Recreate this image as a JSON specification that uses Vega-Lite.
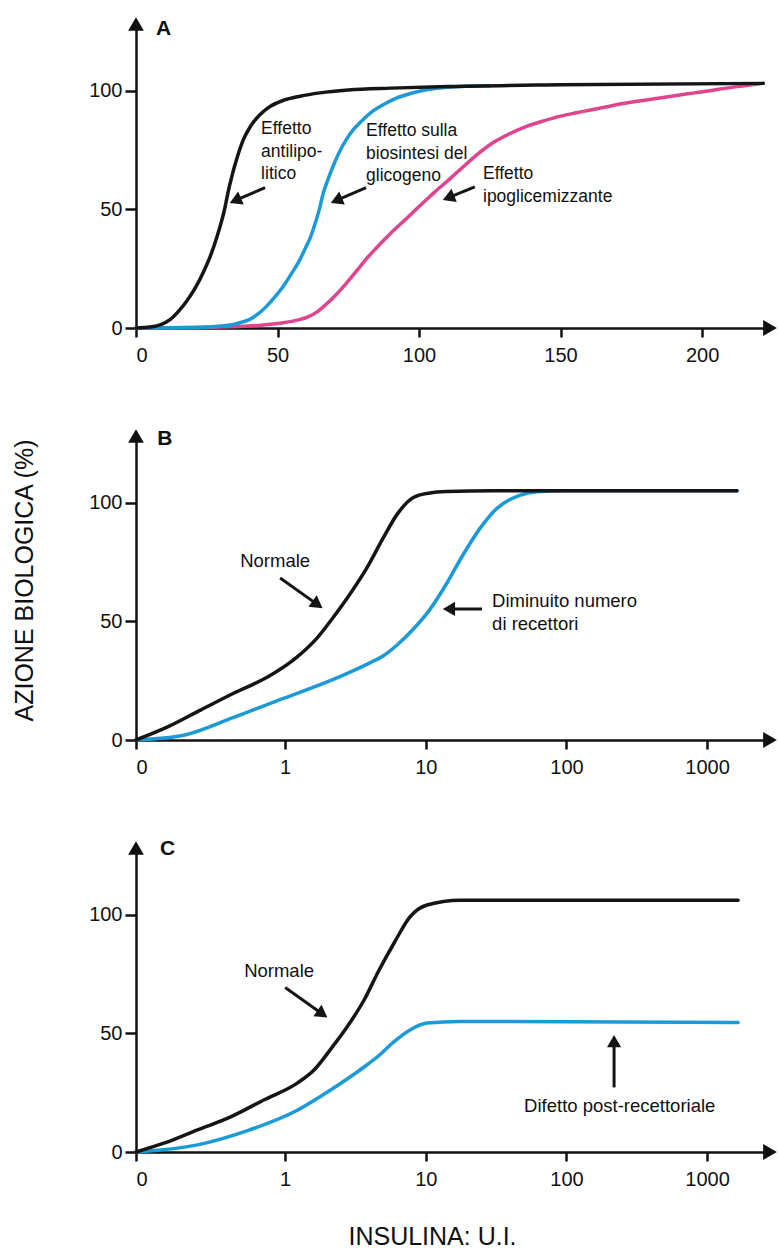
{
  "$schema": "https://vega.github.io/schema/vega-lite/v6.json",
  "background": "white",
  "padding": {"left": 11, "top": 17, "right": 0, "bottom": 0},
  "spacing": 108,
  "bounds": "flush",
  "config": {
    "font": "Liberation Sans",
    "view": {"stroke": null},
    "axis": {
      "domainColor": "#111111", "domainWidth": 2.5, "tickColor": "#111111", "tickWidth": 2.5,
      "labelColor": "#111111", "labelFont": "Liberation Sans", "labelFontSize": 20, "grid": false,
      "titleFont": "Liberation Sans", "titleFontWeight": "normal", "titleColor": "#111111", "titleFontSize": 25
    },
    "axisX": {"tickSize": 9, "labelPadding": 8, "labelAngle": 0},
    "axisY": {"tickSize": 11, "labelPadding": 3},
    "text": {"font": "Liberation Sans", "color": "#111111"}
  },
  "datasets": {
    "A_curves": [
      {"effect": "antilipolitico", "insulin": 0, "action": 0}, {"effect": "antilipolitico", "insulin": 5, "action": 0.4}, {"effect": "antilipolitico", "insulin": 9, "action": 1.5}, {"effect": "antilipolitico", "insulin": 12, "action": 3.5}, {"effect": "antilipolitico", "insulin": 15, "action": 7}, {"effect": "antilipolitico", "insulin": 18, "action": 11.5}, {"effect": "antilipolitico", "insulin": 21, "action": 17}, {"effect": "antilipolitico", "insulin": 24, "action": 24}, {"effect": "antilipolitico", "insulin": 26.5, "action": 31}, {"effect": "antilipolitico", "insulin": 28.5, "action": 38}, {"effect": "antilipolitico", "insulin": 30, "action": 44}, {"effect": "antilipolitico", "insulin": 31.3, "action": 50}, {"effect": "antilipolitico", "insulin": 32.5, "action": 57}, {"effect": "antilipolitico", "insulin": 34, "action": 64.5}, {"effect": "antilipolitico", "insulin": 35.8, "action": 72}, {"effect": "antilipolitico", "insulin": 38, "action": 79.5}, {"effect": "antilipolitico", "insulin": 40.5, "action": 85}, {"effect": "antilipolitico", "insulin": 43.5, "action": 89.5}, {"effect": "antilipolitico", "insulin": 47, "action": 93}, {"effect": "antilipolitico", "insulin": 52, "action": 95.8}, {"effect": "antilipolitico", "insulin": 58, "action": 97.6}, {"effect": "antilipolitico", "insulin": 65, "action": 99}, {"effect": "antilipolitico", "insulin": 75, "action": 100.2}, {"effect": "antilipolitico", "insulin": 90, "action": 101}, {"effect": "antilipolitico", "insulin": 110, "action": 101.7}, {"effect": "antilipolitico", "insulin": 150, "action": 102.4}, {"effect": "antilipolitico", "insulin": 221.6, "action": 103},
      {"effect": "glicogeno", "insulin": 0, "action": 0}, {"effect": "glicogeno", "insulin": 20, "action": 0.2}, {"effect": "glicogeno", "insulin": 30, "action": 0.8}, {"effect": "glicogeno", "insulin": 34, "action": 1.4}, {"effect": "glicogeno", "insulin": 37, "action": 2.3}, {"effect": "glicogeno", "insulin": 40, "action": 3.5}, {"effect": "glicogeno", "insulin": 43, "action": 5.8}, {"effect": "glicogeno", "insulin": 46, "action": 9}, {"effect": "glicogeno", "insulin": 49, "action": 13}, {"effect": "glicogeno", "insulin": 52, "action": 17.5}, {"effect": "glicogeno", "insulin": 55, "action": 23}, {"effect": "glicogeno", "insulin": 58, "action": 29}, {"effect": "glicogeno", "insulin": 60, "action": 34}, {"effect": "glicogeno", "insulin": 61.4, "action": 37.5}, {"effect": "glicogeno", "insulin": 62.6, "action": 41.5}, {"effect": "glicogeno", "insulin": 63.7, "action": 45.6}, {"effect": "glicogeno", "insulin": 65, "action": 51}, {"effect": "glicogeno", "insulin": 66.1, "action": 56.5}, {"effect": "glicogeno", "insulin": 67.8, "action": 62.5}, {"effect": "glicogeno", "insulin": 69.6, "action": 68}, {"effect": "glicogeno", "insulin": 71.8, "action": 74}, {"effect": "glicogeno", "insulin": 74.3, "action": 79.3}, {"effect": "glicogeno", "insulin": 77, "action": 83.8}, {"effect": "glicogeno", "insulin": 80.2, "action": 87.7}, {"effect": "glicogeno", "insulin": 83.5, "action": 91.2}, {"effect": "glicogeno", "insulin": 87.3, "action": 94}, {"effect": "glicogeno", "insulin": 91, "action": 96.3}, {"effect": "glicogeno", "insulin": 95.5, "action": 98.2}, {"effect": "glicogeno", "insulin": 102.6, "action": 100.3}, {"effect": "glicogeno", "insulin": 110, "action": 101.4}, {"effect": "glicogeno", "insulin": 125, "action": 102},
      {"effect": "ipoglicemizzante", "insulin": 0, "action": 0}, {"effect": "ipoglicemizzante", "insulin": 30, "action": 0.4}, {"effect": "ipoglicemizzante", "insulin": 45, "action": 1.3}, {"effect": "ipoglicemizzante", "insulin": 52, "action": 2.2}, {"effect": "ipoglicemizzante", "insulin": 57, "action": 3.3}, {"effect": "ipoglicemizzante", "insulin": 61, "action": 4.8}, {"effect": "ipoglicemizzante", "insulin": 64, "action": 6.8}, {"effect": "ipoglicemizzante", "insulin": 67.2, "action": 10}, {"effect": "ipoglicemizzante", "insulin": 70.5, "action": 13.8}, {"effect": "ipoglicemizzante", "insulin": 74.3, "action": 18.8}, {"effect": "ipoglicemizzante", "insulin": 77.8, "action": 23.8}, {"effect": "ipoglicemizzante", "insulin": 81.3, "action": 29}, {"effect": "ipoglicemizzante", "insulin": 85, "action": 33.8}, {"effect": "ipoglicemizzante", "insulin": 88.4, "action": 38}, {"effect": "ipoglicemizzante", "insulin": 92, "action": 42.2}, {"effect": "ipoglicemizzante", "insulin": 95.5, "action": 46}, {"effect": "ipoglicemizzante", "insulin": 99, "action": 50}, {"effect": "ipoglicemizzante", "insulin": 102.6, "action": 54}, {"effect": "ipoglicemizzante", "insulin": 105.5, "action": 57.2}, {"effect": "ipoglicemizzante", "insulin": 108.5, "action": 60.3}, {"effect": "ipoglicemizzante", "insulin": 112, "action": 64}, {"effect": "ipoglicemizzante", "insulin": 115, "action": 67.2}, {"effect": "ipoglicemizzante", "insulin": 120.3, "action": 72.8}, {"effect": "ipoglicemizzante", "insulin": 126.1, "action": 78}, {"effect": "ipoglicemizzante", "insulin": 132, "action": 81.8}, {"effect": "ipoglicemizzante", "insulin": 138, "action": 84.9}, {"effect": "ipoglicemizzante", "insulin": 144, "action": 87.2}, {"effect": "ipoglicemizzante", "insulin": 149.7, "action": 89.1}, {"effect": "ipoglicemizzante", "insulin": 155.6, "action": 90.6}, {"effect": "ipoglicemizzante", "insulin": 161.5, "action": 92}, {"effect": "ipoglicemizzante", "insulin": 167.3, "action": 93.4}, {"effect": "ipoglicemizzante", "insulin": 173.2, "action": 94.7}, {"effect": "ipoglicemizzante", "insulin": 179, "action": 95.8}, {"effect": "ipoglicemizzante", "insulin": 185, "action": 96.8}, {"effect": "ipoglicemizzante", "insulin": 190.9, "action": 97.9}, {"effect": "ipoglicemizzante", "insulin": 196.8, "action": 98.9}, {"effect": "ipoglicemizzante", "insulin": 202.7, "action": 99.9}, {"effect": "ipoglicemizzante", "insulin": 208.6, "action": 101}, {"effect": "ipoglicemizzante", "insulin": 215, "action": 102}, {"effect": "ipoglicemizzante", "insulin": 221.6, "action": 103}
    ],
    "B_curves": [
      {"curve": "Normale", "insulin": 0.087, "action": 0}, {"curve": "Normale", "insulin": 0.146, "action": 5.5}, {"curve": "Normale", "insulin": 0.25, "action": 12.6}, {"curve": "Normale", "insulin": 0.43, "action": 19.7}, {"curve": "Normale", "insulin": 0.75, "action": 26.5}, {"curve": "Normale", "insulin": 1.14, "action": 33.6}, {"curve": "Normale", "insulin": 1.69, "action": 43}, {"curve": "Normale", "insulin": 2.2, "action": 51.7}, {"curve": "Normale", "insulin": 2.9, "action": 61.6}, {"curve": "Normale", "insulin": 3.83, "action": 72.7}, {"curve": "Normale", "insulin": 4.97, "action": 85}, {"curve": "Normale", "insulin": 6.25, "action": 95}, {"curve": "Normale", "insulin": 8.1, "action": 102}, {"curve": "Normale", "insulin": 10.7, "action": 104}, {"curve": "Normale", "insulin": 14.1, "action": 104.6}, {"curve": "Normale", "insulin": 30, "action": 105}, {"curve": "Normale", "insulin": 1630, "action": 105},
      {"curve": "Diminuito numero di recettori", "insulin": 0.087, "action": 0}, {"curve": "Diminuito numero di recettori", "insulin": 0.19, "action": 2}, {"curve": "Diminuito numero di recettori", "insulin": 0.43, "action": 9.5}, {"curve": "Diminuito numero di recettori", "insulin": 0.97, "action": 17.5}, {"curve": "Diminuito numero di recettori", "insulin": 2.2, "action": 25.5}, {"curve": "Diminuito numero di recettori", "insulin": 3.0, "action": 29}, {"curve": "Diminuito numero di recettori", "insulin": 4.0, "action": 32.5}, {"curve": "Diminuito numero di recettori", "insulin": 5.0, "action": 35.5}, {"curve": "Diminuito numero di recettori", "insulin": 6.25, "action": 40}, {"curve": "Diminuito numero di recettori", "insulin": 8.1, "action": 46.5}, {"curve": "Diminuito numero di recettori", "insulin": 10.7, "action": 55}, {"curve": "Diminuito numero di recettori", "insulin": 14.1, "action": 66}, {"curve": "Diminuito numero di recettori", "insulin": 18.4, "action": 78}, {"curve": "Diminuito numero di recettori", "insulin": 24.2, "action": 89}, {"curve": "Diminuito numero di recettori", "insulin": 32, "action": 97.5}, {"curve": "Diminuito numero di recettori", "insulin": 46.5, "action": 103}, {"curve": "Diminuito numero di recettori", "insulin": 61.5, "action": 104.5}, {"curve": "Diminuito numero di recettori", "insulin": 100, "action": 105}, {"curve": "Diminuito numero di recettori", "insulin": 1630, "action": 105}
    ],
    "C_curves": [
      {"curve": "Normale", "insulin": 0.087, "action": 0}, {"curve": "Normale", "insulin": 0.139, "action": 3.8}, {"curve": "Normale", "insulin": 0.238, "action": 9.3}, {"curve": "Normale", "insulin": 0.41, "action": 14.8}, {"curve": "Normale", "insulin": 0.71, "action": 22}, {"curve": "Normale", "insulin": 1.22, "action": 29}, {"curve": "Normale", "insulin": 1.61, "action": 34.6}, {"curve": "Normale", "insulin": 2.09, "action": 43}, {"curve": "Normale", "insulin": 2.76, "action": 52.7}, {"curve": "Normale", "insulin": 3.64, "action": 64}, {"curve": "Normale", "insulin": 4.6, "action": 76}, {"curve": "Normale", "insulin": 5.95, "action": 88}, {"curve": "Normale", "insulin": 7.72, "action": 99}, {"curve": "Normale", "insulin": 10.2, "action": 104}, {"curve": "Normale", "insulin": 17.5, "action": 106}, {"curve": "Normale", "insulin": 1660, "action": 106},
      {"curve": "Difetto post-recettoriale", "insulin": 0.087, "action": 0}, {"curve": "Difetto post-recettoriale", "insulin": 0.238, "action": 3}, {"curve": "Difetto post-recettoriale", "insulin": 0.54, "action": 9}, {"curve": "Difetto post-recettoriale", "insulin": 1.22, "action": 17.6}, {"curve": "Difetto post-recettoriale", "insulin": 2.09, "action": 26}, {"curve": "Difetto post-recettoriale", "insulin": 3.64, "action": 35.8}, {"curve": "Difetto post-recettoriale", "insulin": 4.51, "action": 40}, {"curve": "Difetto post-recettoriale", "insulin": 5.95, "action": 46.5}, {"curve": "Difetto post-recettoriale", "insulin": 7.72, "action": 51.4}, {"curve": "Difetto post-recettoriale", "insulin": 10.2, "action": 54.3}, {"curve": "Difetto post-recettoriale", "insulin": 17.5, "action": 55}, {"curve": "Difetto post-recettoriale", "insulin": 1660, "action": 54.5}
    ],
    "notes": [
      {"panel": "A", "kind": "letter", "insulin": 7.1, "action": 130.5, "label": "A"},
      {"panel": "A", "kind": "note", "insulin": 44.2, "action": 87.5, "label": "Effetto\nantilipo-\nlitico"},
      {"panel": "A", "kind": "note", "insulin": 81.3, "action": 86.7, "label": "Effetto sulla\nbiosintesi del\nglicogeno"},
      {"panel": "A", "kind": "note", "insulin": 122.6, "action": 68.5, "label": "Effetto\nipoglicemizzante"},
      {"panel": "B", "kind": "letter", "insulin": 0.123, "action": 131.4, "label": "B"},
      {"panel": "B", "kind": "note", "insulin": 0.479, "action": 79.2, "label": "Normale"},
      {"panel": "B", "kind": "note", "insulin": 29.6, "action": 62.3, "label": "Diminuito numero\ndi recettori"},
      {"panel": "C", "kind": "letter", "insulin": 0.129, "action": 132.2, "label": "C"},
      {"panel": "C", "kind": "note", "insulin": 0.511, "action": 80, "label": "Normale"},
      {"panel": "C", "kind": "note", "insulin": 50, "action": 23.2, "label": "Difetto post-recettoriale"}
    ],
    "arrows": [
      {"panel": "A", "insulin": 45.6, "action": 59.1, "insulin2": 35.1, "action2": 53.7, "angle": 246.8},
      {"panel": "A", "insulin": 81.3, "action": 59.1, "insulin2": 70.8, "action2": 53.7, "angle": 246.8},
      {"panel": "A", "insulin": 119.7, "action": 59.4, "insulin2": 110.4, "action2": 54.9, "angle": 248.2},
      {"panel": "B", "insulin": 0.921, "action": 68.2, "insulin2": 1.7, "action2": 57, "angle": 125.5},
      {"panel": "B", "insulin": 25.1, "action": 55.2, "insulin2": 14.6, "action2": 55.2, "angle": 270},
      {"panel": "C", "insulin": 1.0, "action": 69.3, "insulin2": 1.84, "action2": 58.1, "angle": 125.5},
      {"panel": "C", "insulin": 218, "action": 27.2, "insulin2": 218, "action2": 46.7, "angle": 0}
    ]
  },
  "vconcat": [
    {
      "width": 634, "height": 304,
      "layer": [
        {
          "data": {"name": "A_curves"},
          "transform": [{"filter": "datum.effect === 'ipoglicemizzante'"}],
          "mark": {"type": "line", "interpolate": "monotone", "strokeWidth": 3.5, "strokeCap": "round", "color": "#e0448f"},
          "encoding": {
            "x": {"field": "insulin", "type": "quantitative", "scale": {"domain": [0, 224], "nice": false}, "axis": {"values": [0, 50, 100, 150, 200], "title": null}},
            "y": {"field": "action", "type": "quantitative", "scale": {"domain": [0, 128], "nice": false}, "axis": {"values": [0, 50, 100], "title": null}}
          }
        },
        {
          "data": {"name": "A_curves"},
          "transform": [{"filter": "datum.effect === 'glicogeno'"}],
          "mark": {"type": "line", "interpolate": "monotone", "strokeWidth": 3.5, "strokeCap": "round", "color": "#1a9ad8"},
          "encoding": {"x": {"field": "insulin", "type": "quantitative"}, "y": {"field": "action", "type": "quantitative"}}
        },
        {
          "data": {"name": "A_curves"},
          "transform": [{"filter": "datum.effect === 'antilipolitico'"}],
          "mark": {"type": "line", "interpolate": "monotone", "strokeWidth": 3.5, "strokeCap": "round", "color": "#151515"},
          "encoding": {"x": {"field": "insulin", "type": "quantitative"}, "y": {"field": "action", "type": "quantitative"}}
        },
        {
          "data": {"name": "arrows"},
          "transform": [{"filter": "datum.panel === 'A'"}],
          "mark": {"type": "rule", "strokeWidth": 3, "color": "#151515"},
          "encoding": {"x": {"field": "insulin", "type": "quantitative"}, "y": {"field": "action", "type": "quantitative"}, "x2": {"field": "insulin2"}, "y2": {"field": "action2"}}
        },
        {
          "data": {"name": "arrows"},
          "transform": [{"filter": "datum.panel === 'A'"}],
          "mark": {"type": "point", "shape": "triangle-up", "filled": true, "size": 200, "opacity": 1, "color": "#151515"},
          "encoding": {"x": {"field": "insulin2", "type": "quantitative"}, "y": {"field": "action2", "type": "quantitative"}, "angle": {"field": "angle", "type": "quantitative", "scale": null}}
        },
        {
          "data": {"name": "notes"},
          "transform": [{"filter": "datum.panel === 'A' && datum.kind === 'note'"}],
          "mark": {"type": "text", "align": "left", "baseline": "top", "fontSize": 17.5, "lineBreak": "\n", "lineHeight": 22.5},
          "encoding": {"x": {"field": "insulin", "type": "quantitative"}, "y": {"field": "action", "type": "quantitative"}, "text": {"field": "label"}}
        },
        {
          "data": {"name": "notes"},
          "transform": [{"filter": "datum.panel === 'A' && datum.kind === 'letter'"}],
          "mark": {"type": "text", "align": "left", "baseline": "top", "fontSize": 21, "fontWeight": "bold"},
          "encoding": {"x": {"field": "insulin", "type": "quantitative"}, "y": {"field": "action", "type": "quantitative"}, "text": {"field": "label"}}
        },
        {
          "data": {"values": [{}]},
          "mark": {"type": "point", "shape": "triangle-up", "filled": true, "size": 250, "opacity": 1, "color": "#111111"},
          "encoding": {"x": {"datum": 0, "type": "quantitative"}, "y": {"datum": 128, "type": "quantitative"}}
        },
        {
          "data": {"values": [{}]},
          "mark": {"type": "point", "shape": "triangle-right", "filled": true, "size": 250, "opacity": 1, "color": "#111111"},
          "encoding": {"x": {"datum": 224, "type": "quantitative"}, "y": {"datum": 0, "type": "quantitative"}}
        }
      ]
    },
    {
      "width": 634, "height": 304,
      "layer": [
        {
          "data": {"name": "B_curves"},
          "transform": [{"filter": "datum.curve === 'Diminuito numero di recettori'"}],
          "mark": {"type": "line", "interpolate": "monotone", "strokeWidth": 3.5, "strokeCap": "round", "color": "#1a9ad8"},
          "encoding": {
            "x": {"field": "insulin", "type": "quantitative", "scale": {"type": "log", "domain": [0.087, 2800], "nice": false}, "axis": {"values": [0.087, 1, 10, 100, 1000], "labelExpr": "datum.value < 0.5 ? '0' : format(datum.value, 'd')", "title": null}},
            "y": {"field": "action", "type": "quantitative", "scale": {"domain": [0, 128], "nice": false}, "axis": {"values": [0, 50, 100], "title": "AZIONE BIOLOGICA (%)", "titleX": -112, "titleY": 144, "titleAngle": -90, "titleAlign": "center", "titleBaseline": "middle"}}
          }
        },
        {
          "data": {"name": "B_curves"},
          "transform": [{"filter": "datum.curve === 'Normale'"}],
          "mark": {"type": "line", "interpolate": "monotone", "strokeWidth": 3.5, "strokeCap": "round", "color": "#151515"},
          "encoding": {"x": {"field": "insulin", "type": "quantitative"}, "y": {"field": "action", "type": "quantitative"}}
        },
        {
          "data": {"name": "arrows"},
          "transform": [{"filter": "datum.panel === 'B'"}],
          "mark": {"type": "rule", "strokeWidth": 3, "color": "#151515"},
          "encoding": {"x": {"field": "insulin", "type": "quantitative"}, "y": {"field": "action", "type": "quantitative"}, "x2": {"field": "insulin2"}, "y2": {"field": "action2"}}
        },
        {
          "data": {"name": "arrows"},
          "transform": [{"filter": "datum.panel === 'B'"}],
          "mark": {"type": "point", "shape": "triangle-up", "filled": true, "size": 200, "opacity": 1, "color": "#151515"},
          "encoding": {"x": {"field": "insulin2", "type": "quantitative"}, "y": {"field": "action2", "type": "quantitative"}, "angle": {"field": "angle", "type": "quantitative", "scale": null}}
        },
        {
          "data": {"name": "notes"},
          "transform": [{"filter": "datum.panel === 'B' && datum.kind === 'note'"}],
          "mark": {"type": "text", "align": "left", "baseline": "top", "fontSize": 18.5, "lineBreak": "\n", "lineHeight": 23},
          "encoding": {"x": {"field": "insulin", "type": "quantitative"}, "y": {"field": "action", "type": "quantitative"}, "text": {"field": "label"}}
        },
        {
          "data": {"name": "notes"},
          "transform": [{"filter": "datum.panel === 'B' && datum.kind === 'letter'"}],
          "mark": {"type": "text", "align": "left", "baseline": "top", "fontSize": 21, "fontWeight": "bold"},
          "encoding": {"x": {"field": "insulin", "type": "quantitative"}, "y": {"field": "action", "type": "quantitative"}, "text": {"field": "label"}}
        },
        {
          "data": {"values": [{}]},
          "mark": {"type": "point", "shape": "triangle-up", "filled": true, "size": 250, "opacity": 1, "color": "#111111"},
          "encoding": {"x": {"datum": 0.087, "type": "quantitative"}, "y": {"datum": 128, "type": "quantitative"}}
        },
        {
          "data": {"values": [{}]},
          "mark": {"type": "point", "shape": "triangle-right", "filled": true, "size": 250, "opacity": 1, "color": "#111111"},
          "encoding": {"x": {"datum": 2800, "type": "quantitative"}, "y": {"datum": 0, "type": "quantitative"}}
        }
      ]
    },
    {
      "width": 634, "height": 304,
      "layer": [
        {
          "data": {"name": "C_curves"},
          "transform": [{"filter": "datum.curve === 'Difetto post-recettoriale'"}],
          "mark": {"type": "line", "interpolate": "monotone", "strokeWidth": 3.5, "strokeCap": "round", "color": "#1a9ad8"},
          "encoding": {
            "x": {"field": "insulin", "type": "quantitative", "scale": {"type": "log", "domain": [0.087, 2800], "nice": false}, "axis": {"values": [0.087, 1, 10, 100, 1000], "labelExpr": "datum.value < 0.5 ? '0' : format(datum.value, 'd')", "title": "INSULINA: U.I.", "titleX": 296, "titleY": 84, "titleAlign": "center", "titleBaseline": "middle"}},
            "y": {"field": "action", "type": "quantitative", "scale": {"domain": [0, 128], "nice": false}, "axis": {"values": [0, 50, 100], "title": null}}
          }
        },
        {
          "data": {"name": "C_curves"},
          "transform": [{"filter": "datum.curve === 'Normale'"}],
          "mark": {"type": "line", "interpolate": "monotone", "strokeWidth": 3.5, "strokeCap": "round", "color": "#151515"},
          "encoding": {"x": {"field": "insulin", "type": "quantitative"}, "y": {"field": "action", "type": "quantitative"}}
        },
        {
          "data": {"name": "arrows"},
          "transform": [{"filter": "datum.panel === 'C'"}],
          "mark": {"type": "rule", "strokeWidth": 3, "color": "#151515"},
          "encoding": {"x": {"field": "insulin", "type": "quantitative"}, "y": {"field": "action", "type": "quantitative"}, "x2": {"field": "insulin2"}, "y2": {"field": "action2"}}
        },
        {
          "data": {"name": "arrows"},
          "transform": [{"filter": "datum.panel === 'C'"}],
          "mark": {"type": "point", "shape": "triangle-up", "filled": true, "size": 200, "opacity": 1, "color": "#151515"},
          "encoding": {"x": {"field": "insulin2", "type": "quantitative"}, "y": {"field": "action2", "type": "quantitative"}, "angle": {"field": "angle", "type": "quantitative", "scale": null}}
        },
        {
          "data": {"name": "notes"},
          "transform": [{"filter": "datum.panel === 'C' && datum.kind === 'note'"}],
          "mark": {"type": "text", "align": "left", "baseline": "top", "fontSize": 18.5, "lineBreak": "\n", "lineHeight": 23},
          "encoding": {"x": {"field": "insulin", "type": "quantitative"}, "y": {"field": "action", "type": "quantitative"}, "text": {"field": "label"}}
        },
        {
          "data": {"name": "notes"},
          "transform": [{"filter": "datum.panel === 'C' && datum.kind === 'letter'"}],
          "mark": {"type": "text", "align": "left", "baseline": "top", "fontSize": 21, "fontWeight": "bold"},
          "encoding": {"x": {"field": "insulin", "type": "quantitative"}, "y": {"field": "action", "type": "quantitative"}, "text": {"field": "label"}}
        },
        {
          "data": {"values": [{}]},
          "mark": {"type": "point", "shape": "triangle-up", "filled": true, "size": 250, "opacity": 1, "color": "#111111"},
          "encoding": {"x": {"datum": 0.087, "type": "quantitative"}, "y": {"datum": 128, "type": "quantitative"}}
        },
        {
          "data": {"values": [{}]},
          "mark": {"type": "point", "shape": "triangle-right", "filled": true, "size": 250, "opacity": 1, "color": "#111111"},
          "encoding": {"x": {"datum": 2800, "type": "quantitative"}, "y": {"datum": 0, "type": "quantitative"}}
        }
      ]
    }
  ]
}
